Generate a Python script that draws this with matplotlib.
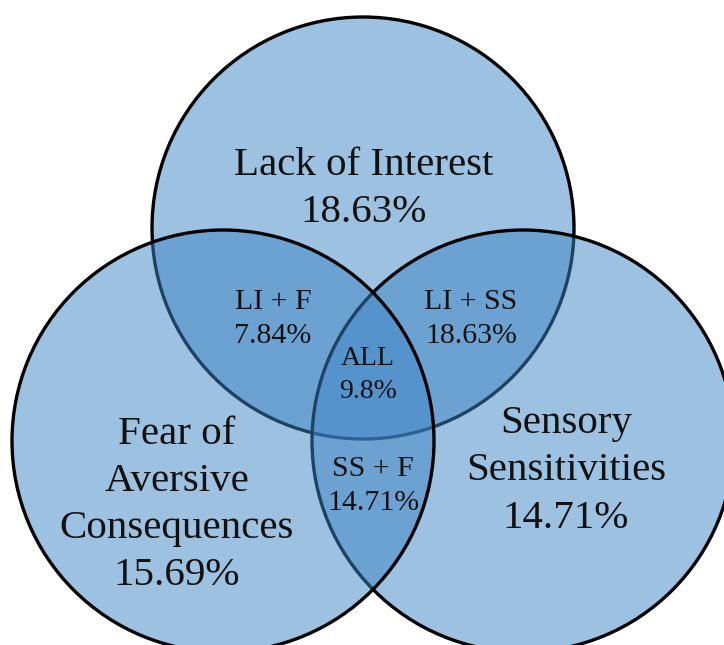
import matplotlib
matplotlib.use("Agg")
import matplotlib.pyplot as plt
from matplotlib.patches import Circle

# Venn diagram data (percent of respondents)
set_names = ["Lack of Interest", "Fear of\nAversive\nConsequences", "Sensory\nSensitivities"]
set_values = [18.63, 15.69, 14.71]
pair_names = ["LI + F", "LI + SS", "SS + F"]
pair_values = [7.84, 18.63, 14.71]
all_name = "ALL"
all_value = 9.8

plt.rcParams['font.family'] = ['Liberation Serif', 'DejaVu Serif']

fig = plt.figure(figsize=(7.24, 6.45), dpi=100)
ax = fig.add_axes([0, 0, 1, 1])
ax.set_xlim(0, 724)
ax.set_ylim(645, 0)
ax.set_aspect('equal')
ax.axis('off')

fill = (61 / 255, 133 / 255, 197 / 255, 0.5)
r = 211
# drawing order: top, right, left (left sits on top)
circles = [((363, 228), 1), ((523, 441), 2), ((223, 441), 3)]
for (cx, cy), z in circles:
    ax.add_patch(Circle((cx, cy), r, facecolor=fill, edgecolor='black',
                        linewidth=2.4, zorder=z))

txt = dict(ha='center', va='center', multialignment='center',
           color='#111111', zorder=10)

# single-set labels
set_pos = [(364, 189), (177, 505), (566, 471)]
for name, val, (x, y) in zip(set_names, set_values, set_pos):
    ax.text(x, y, f"{name}\n{val:g}%", fontsize=29.5, linespacing=1.36, **txt)

# pairwise overlaps
pair_pos = [(273, 319), (471, 319), (373, 486)]
for name, val, (x, y) in zip(pair_names, pair_values, pair_pos):
    ax.text(x, y, f"{name}\n{val:g}%", fontsize=21.5, linespacing=1.42, **txt)

ax.text(368, 375, f"{all_name}\n{all_value:g}%", fontsize=20, linespacing=1.38, **txt)

fig.savefig("out.png", dpi=100)
